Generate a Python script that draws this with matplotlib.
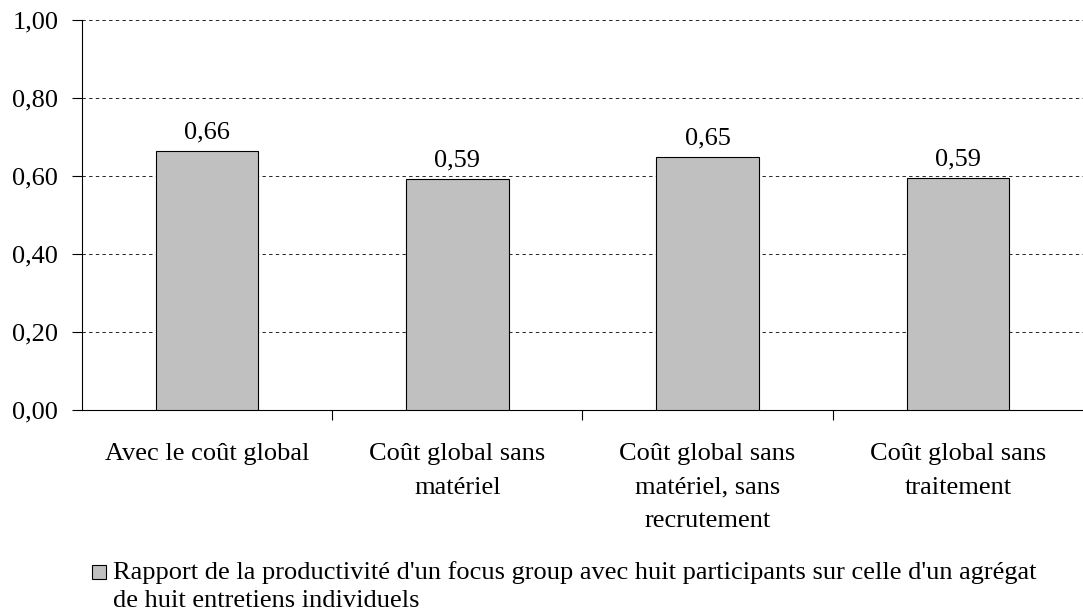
import numpy as np
import matplotlib.pyplot as plt
from matplotlib.patches import Rectangle

plt.rcParams['font.family'] = ['Liberation Serif', 'DejaVu Serif']

categories = ["Avec le coût global", "Coût global sans\nmatériel",
              "Coût global sans\nmatériel, sans\nrecrutement", "Coût global sans\ntraitement"]
values = [0.664, 0.592, 0.649, 0.595]
value_labels = ["0,66", "0,59", "0,65", "0,59"]
yticks = [0.0, 0.2, 0.4, 0.6, 0.8, 1.0]
ytick_labels = ["0,00", "0,20", "0,40", "0,60", "0,80", "1,00"]
legend_label = ("Rapport de la productivité d'un focus group avec huit participants sur celle d'un agrégat\n"
                "de huit entretiens individuels")

fs = 19
fig = plt.figure(figsize=(10.83, 6.14), dpi=100)
ax = fig.add_axes([0.0757, 0.332, 0.9243, 0.635])

x = np.arange(len(categories))
ax.bar(x, values, width=0.41, color="#c0c0c0", edgecolor="black", linewidth=0.8, zorder=3)
for xi, v, lab in zip(x, values, value_labels):
    ax.text(xi, v + 0.02, lab, ha="center", va="bottom", fontsize=fs)

ax.set_xlim(-0.5, len(categories) - 0.5)
ax.set_ylim(0, 1.0)
ax.set_yticks(yticks)
ax.set_yticklabels(ytick_labels, fontsize=fs)
ax.set_xticks(x)
ax.set_xticklabels(categories, fontsize=fs, linespacing=1.65, va="top")
ax.tick_params(axis="x", length=0, pad=24)
ax.set_xticks(np.arange(0.5, len(categories) - 0.5), minor=True)
ax.tick_params(axis="x", which="minor", length=7, width=0.8, direction="out")
ax.tick_params(axis="y", length=7, width=0.8, direction="out", pad=10)

ax.yaxis.grid(True, linestyle=(0, (4, 4)), color="black", linewidth=0.6, zorder=0)
ax.set_axisbelow(True)
for s in ["top", "right"]:
    ax.spines[s].set_visible(False)
ax.spines["left"].set_linewidth(0.8)
ax.spines["bottom"].set_linewidth(0.8)

fig.patches.append(Rectangle((92 / 1083, 1 - 579 / 614), 14 / 1083, 14 / 614,
                             transform=fig.transFigure, facecolor="#c0c0c0",
                             edgecolor="black", linewidth=0.8))
fig.text(113 / 1083, 1 - 561 / 614, legend_label, fontsize=fs, va="top", ha="left", linespacing=1.35)

fig.savefig("out.png", dpi=100)
